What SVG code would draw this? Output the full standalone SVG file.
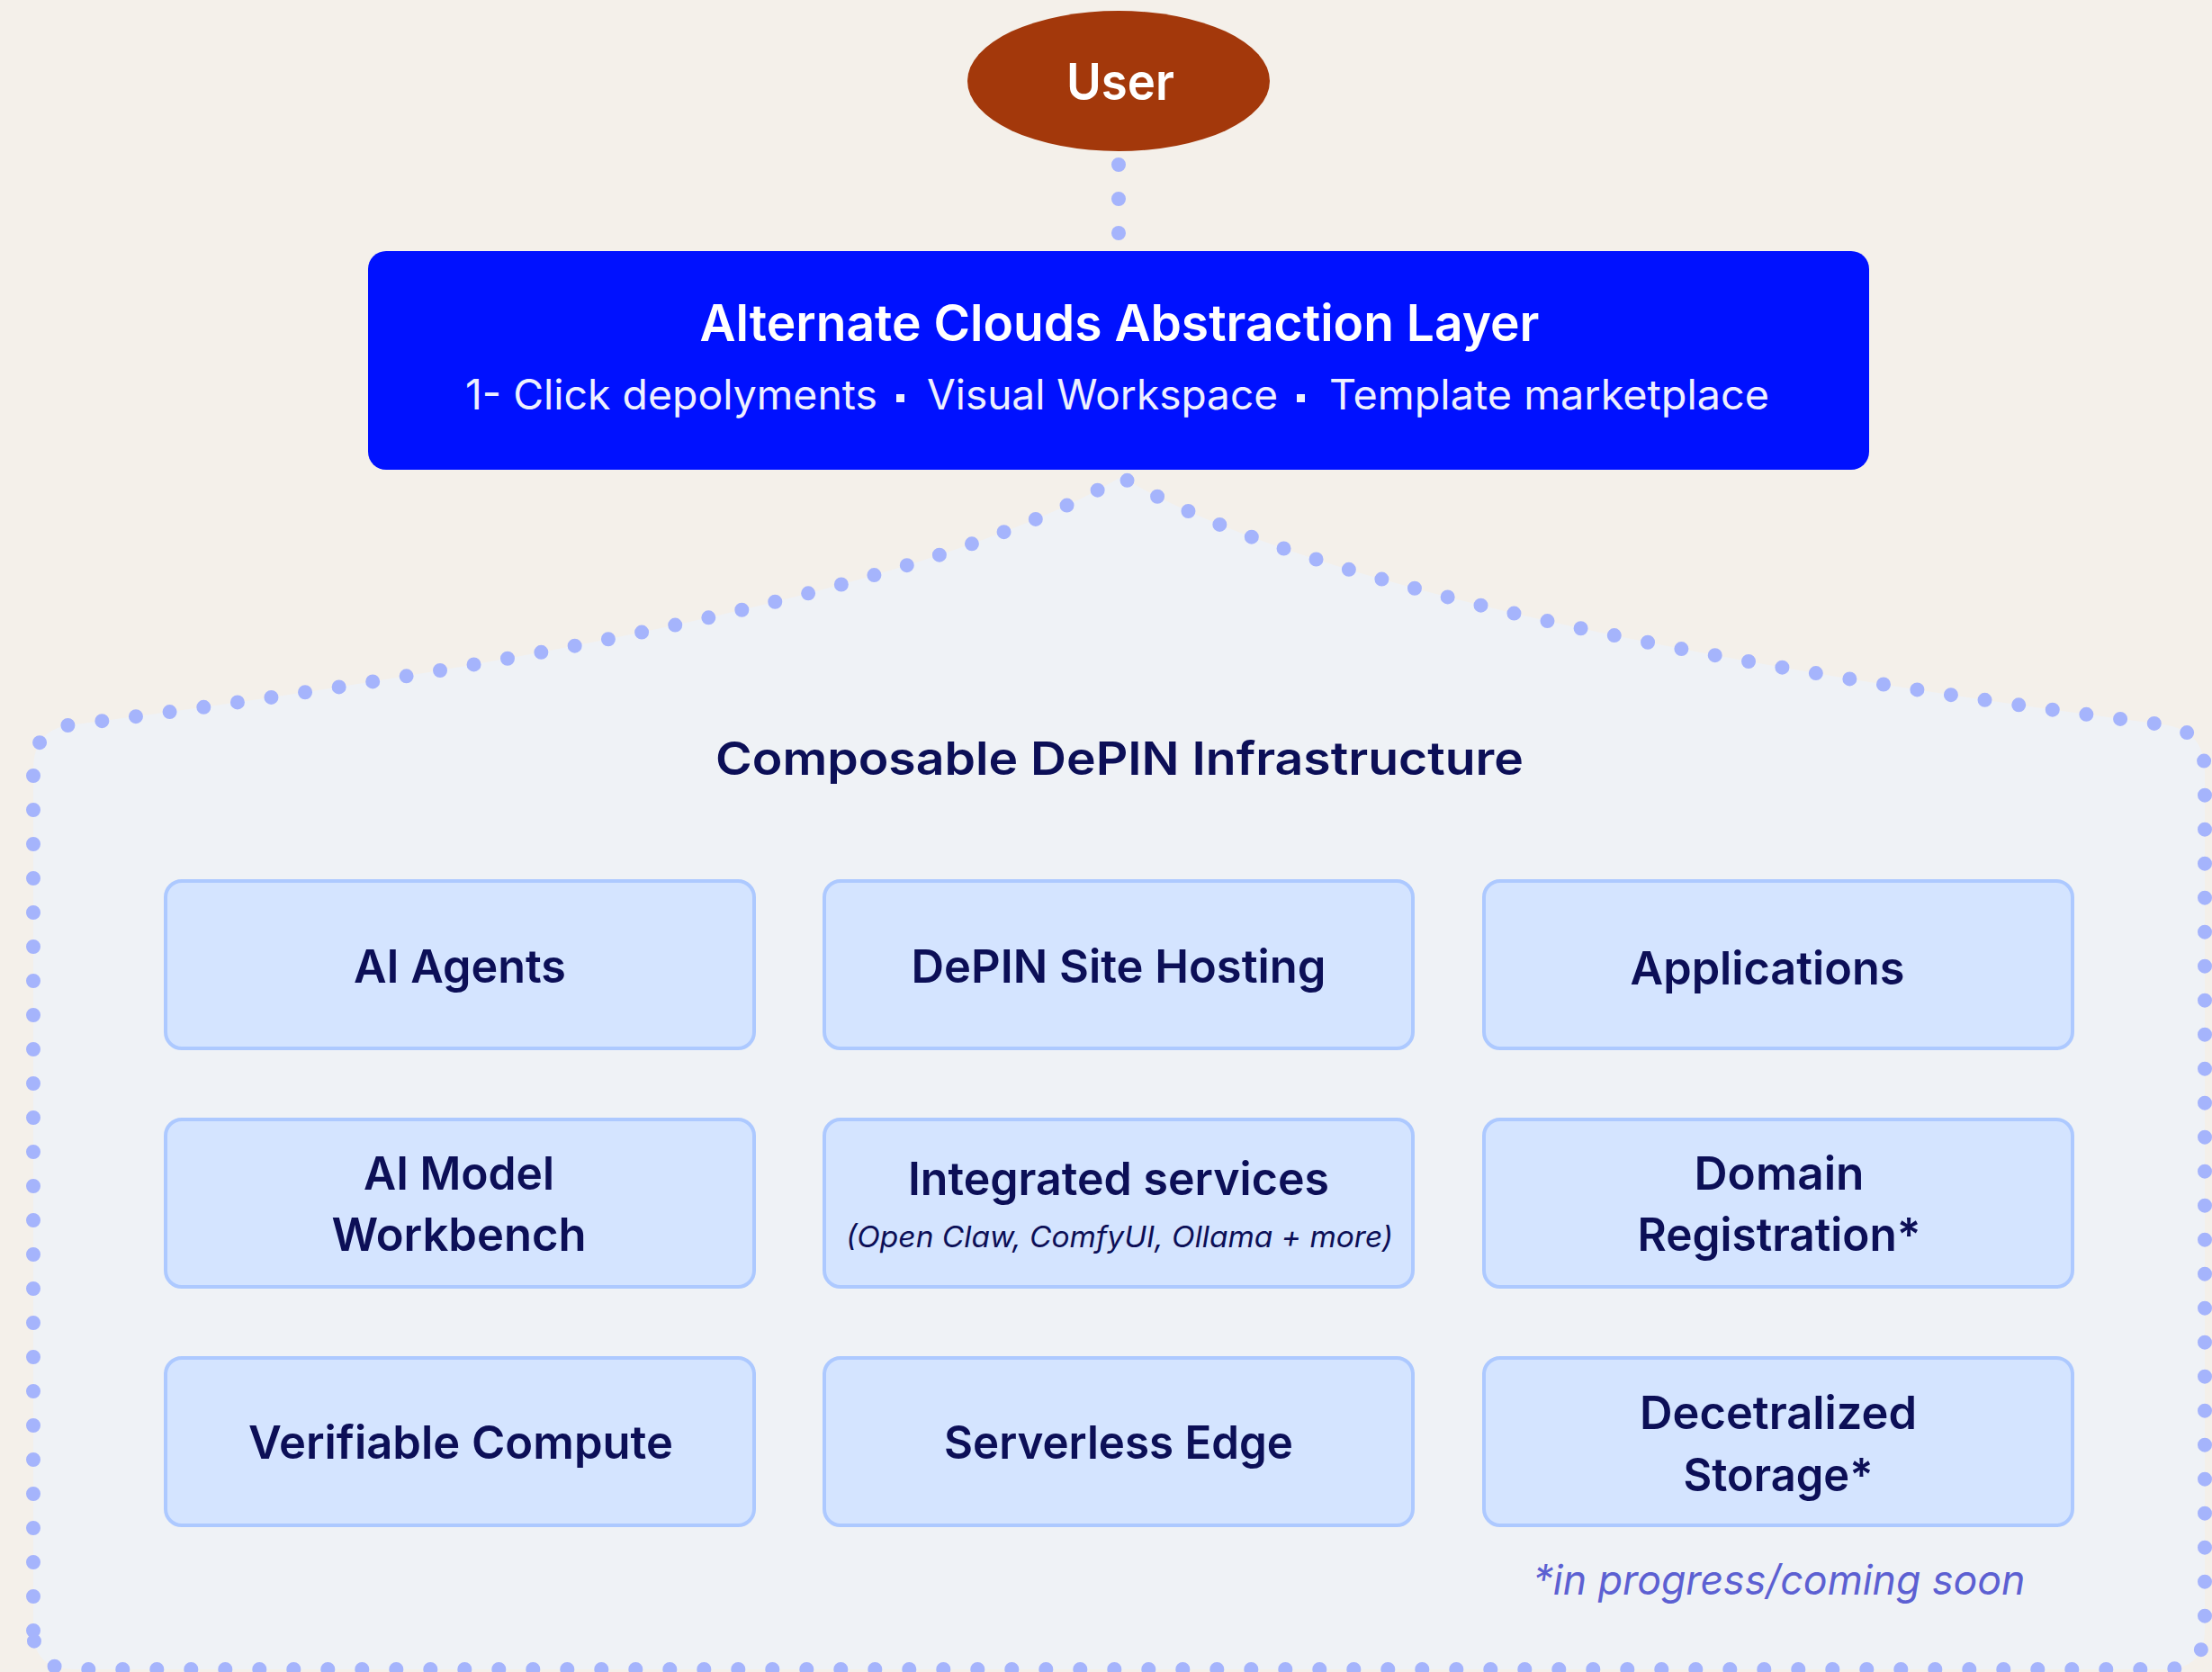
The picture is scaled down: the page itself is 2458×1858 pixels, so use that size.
<svg xmlns="http://www.w3.org/2000/svg" width="2458" height="1858" viewBox="0 0 2458 1858">
  <style>
    .dots { fill: none; stroke: #a5b4fc; stroke-width: 16; stroke-linecap: round; stroke-dasharray: 0 38; }
    .box { fill: #d4e4ff; stroke: #adc9ff; stroke-width: 4; }
    .lbl { font-family: Inter, "Noto Sans", "Liberation Sans", sans-serif; font-weight: 600; font-size: 51px; fill: #0c0f57; text-anchor: middle; }
    .sub { font-family: Inter, "Noto Sans", "Liberation Sans", sans-serif; font-weight: 400; font-style: italic; font-size: 33px; fill: #0c0f57; text-anchor: middle; }
    .white { font-family: Inter, "Noto Sans", "Liberation Sans", sans-serif; fill: #ffffff; }
    .lay { font-family: Inter, "Noto Sans", "Liberation Sans", sans-serif; font-weight: 400; font-size: 46px; fill: #eef0ff; }
  </style>
  <rect x="0" y="0" width="2458" height="1858" fill="#f4f0ea"/>

  <g id="depin-container">
    <path d="M 37,1812 L 37,855 Q 37,808 84,805 Q 975,690 1246,530 Q 1517,690 2402,805 Q 2450,810 2450,858 L 2450,1810 Q 2450,1855 2405,1855 L 82,1855 Q 37,1855 37,1812 Z" fill="#eff2f6"/>
    <path class="dots" d="M 37,1812 L 37,855 Q 37,808 84,805 Q 975,690 1246,530 Q 1517,690 2402,805 Q 2450,810 2450,858 L 2450,1810 Q 2450,1855 2405,1855 L 82,1855 Q 37,1855 37,1812 Z"/>
    <text class="lbl" x="1244" y="861" font-size="56" textLength="898" lengthAdjust="spacingAndGlyphs">Composable DePIN Infrastructure</text>
    <text x="1977" y="1772" font-family="Inter, 'Noto Sans', 'Liberation Sans', sans-serif" font-style="italic" font-size="46" fill="#5c60d2" text-anchor="middle" textLength="547" lengthAdjust="spacingAndGlyphs">*in progress/coming soon</text>
  </g>

  <g id="connectors">
    <path class="dots" d="M 1243,183 L 1243,260.5"/>
  </g>

  <g id="user">
    <ellipse cx="1243" cy="90" rx="168" ry="78" fill="#a3380b"/>
    <text class="white" x="1245" y="111" font-size="57" font-weight="600" text-anchor="middle" textLength="120" lengthAdjust="spacingAndGlyphs">User</text>
  </g>

  <g id="abstraction-layer">
    <rect x="409" y="279" width="1668" height="243" rx="20" fill="#0011ff"/>
    <text class="white" x="1244" y="379" font-size="56" font-weight="600" text-anchor="middle" textLength="933" lengthAdjust="spacingAndGlyphs">Alternate Clouds Abstraction Layer</text>
    <text class="lay" x="517" y="455" textLength="458" lengthAdjust="spacingAndGlyphs">1- Click depolyments</text>
    <rect x="996" y="438" width="9" height="9" fill="#eef0ff"/>
    <text class="lay" x="1030" y="455" textLength="390" lengthAdjust="spacingAndGlyphs">Visual Workspace</text>
    <rect x="1441" y="438" width="9" height="9" fill="#eef0ff"/>
    <text class="lay" x="1477" y="455" textLength="489" lengthAdjust="spacingAndGlyphs">Template marketplace</text>
  </g>

  <g id="ai-agents">
    <rect class="box" x="184" y="979" width="654" height="186" rx="18"/>
    <text class="lbl" x="511" y="1092" textLength="236" lengthAdjust="spacingAndGlyphs">AI Agents</text>
  </g>
  <g id="depin-site-hosting">
    <rect class="box" x="916" y="979" width="654" height="186" rx="18"/>
    <text class="lbl" x="1243" y="1092" textLength="461" lengthAdjust="spacingAndGlyphs">DePIN Site Hosting</text>
  </g>
  <g id="applications">
    <rect class="box" x="1649" y="979" width="654" height="186" rx="18"/>
    <text class="lbl" x="1964" y="1094" textLength="305" lengthAdjust="spacingAndGlyphs">Applications</text>
  </g>

  <g id="ai-model-workbench">
    <rect class="box" x="184" y="1244" width="654" height="186" rx="18"/>
    <text class="lbl" x="510" y="1322" textLength="212" lengthAdjust="spacingAndGlyphs">AI Model</text>
    <text class="lbl" x="510" y="1390" textLength="283" lengthAdjust="spacingAndGlyphs">Workbench</text>
  </g>
  <g id="integrated-services">
    <rect class="box" x="916" y="1244" width="654" height="186" rx="18"/>
    <text class="lbl" x="1243" y="1328" textLength="468" lengthAdjust="spacingAndGlyphs">Integrated services</text>
    <text class="sub" x="1244" y="1386" textLength="608" lengthAdjust="spacingAndGlyphs">(Open Claw, ComfyUI, Ollama + more)</text>
  </g>
  <g id="domain-registration">
    <rect class="box" x="1649" y="1244" width="654" height="186" rx="18"/>
    <text class="lbl" x="1977" y="1322" textLength="189" lengthAdjust="spacingAndGlyphs">Domain</text>
    <text class="lbl" x="1977" y="1390" textLength="315" lengthAdjust="spacingAndGlyphs">Registration*</text>
  </g>

  <g id="verifiable-compute">
    <rect class="box" x="184" y="1509" width="654" height="186" rx="18"/>
    <text class="lbl" x="512" y="1621" textLength="472" lengthAdjust="spacingAndGlyphs">Verifiable Compute</text>
  </g>
  <g id="serverless-edge">
    <rect class="box" x="916" y="1509" width="654" height="186" rx="18"/>
    <text class="lbl" x="1243" y="1621" textLength="388" lengthAdjust="spacingAndGlyphs">Serverless Edge</text>
  </g>
  <g id="decentralized-storage">
    <rect class="box" x="1649" y="1509" width="654" height="186" rx="18"/>
    <text class="lbl" x="1976" y="1588" textLength="308" lengthAdjust="spacingAndGlyphs">Decetralized</text>
    <text class="lbl" x="1976" y="1657" textLength="211" lengthAdjust="spacingAndGlyphs">Storage*</text>
  </g>
</svg>
